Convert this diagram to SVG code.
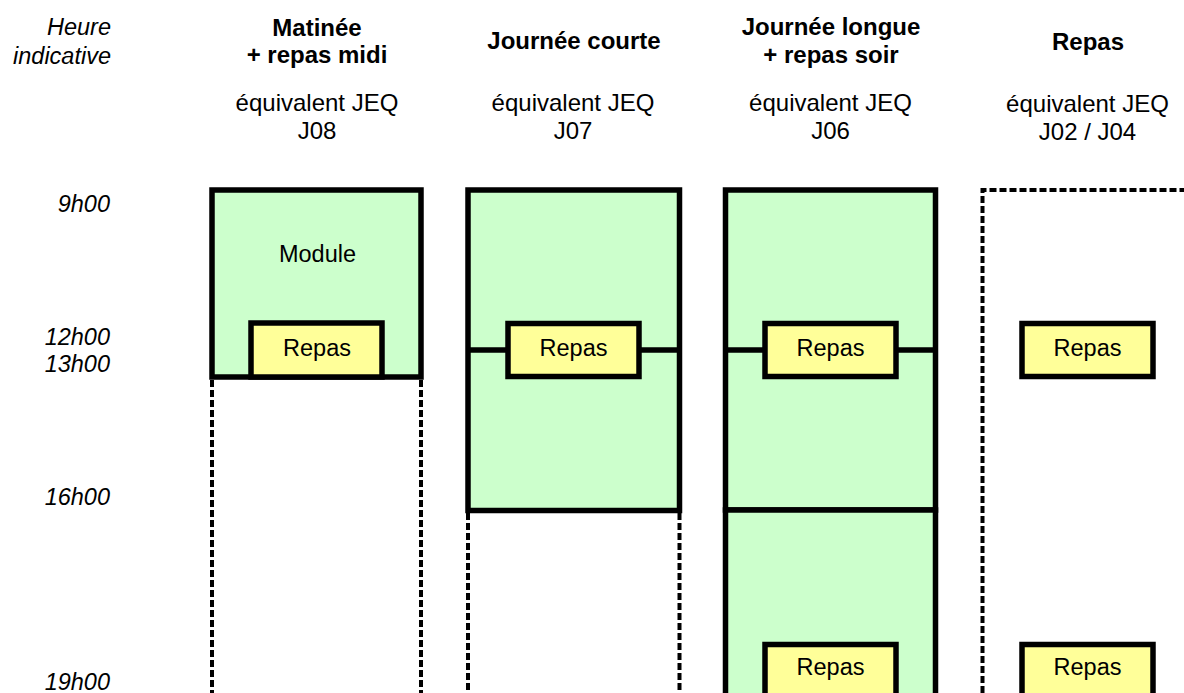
<svg xmlns="http://www.w3.org/2000/svg" width="1184" height="693" viewBox="0 0 1184 693">
<style>
text{font-family:"Liberation Sans",Arial,sans-serif;fill:#000}
.h{font-size:24px;font-weight:bold;text-anchor:middle}
.s{font-size:24px;text-anchor:middle}
.t{font-size:23.5px;font-style:italic;text-anchor:end}
.lbl{font-size:23.5px;text-anchor:middle}
.g{fill:#CCFFCC;stroke:#000;stroke-width:5.5}
.y{fill:#FFFF99;stroke:#000;stroke-width:5.5}
.ln{fill:none;stroke:#000;stroke-width:5.5}
.d{fill:none;stroke:#000;stroke-width:4;stroke-dasharray:7 3}
</style>
<rect width="1184" height="693" fill="#fff"/>
<g id="time-axis">
<text class="t" x="111" y="35">Heure</text>
<text class="t" x="111" y="64">indicative</text>
<text class="t" x="110" y="212">9h00</text>
<text class="t" x="110" y="345">12h00</text>
<text class="t" x="110" y="372">13h00</text>
<text class="t" x="110" y="505">16h00</text>
<text class="t" x="110" y="690">19h00</text>
</g>
<g id="headers">
<text class="h" x="317" y="36">Matinée</text>
<text class="h" x="317" y="63">+ repas midi</text>
<text class="s" x="317" y="111">équivalent JEQ</text>
<text class="s" x="317" y="138.5">J08</text>
<text class="h" x="574" y="49">Journée courte</text>
<text class="s" x="573" y="111">équivalent JEQ</text>
<text class="s" x="573" y="138.5">J07</text>
<text class="h" x="831" y="35">Journée longue</text>
<text class="h" x="831" y="63">+ repas soir</text>
<text class="s" x="830.5" y="111">équivalent JEQ</text>
<text class="s" x="830.5" y="138.5">J06</text>
<text class="h" x="1088" y="50">Repas</text>
<text class="s" x="1087.5" y="111.5">équivalent JEQ</text>
<text class="s" x="1087.5" y="139.5">J02 / J04</text>
</g>
<g id="matinee">
<rect class="g" x="212" y="190" width="209" height="187"/>
<text class="lbl" x="317.5" y="262">Module</text>
</g>
<g id="journee-courte">
<rect class="g" x="468" y="190" width="211.5" height="320.5"/>
</g>
<g id="journee-longue">
<rect class="g" x="725.5" y="190" width="210" height="320"/>
</g>
<g id="journee-longue-soir">
<rect class="g" x="725.5" y="510" width="210" height="200"/>
</g>
<g id="connectors">
<path class="d" d="M212 380V693M421 380V693"/>
<path class="d" d="M468 513V693M679.5 513V693"/>
<path class="d" d="M982.5 693V190H1190"/>
<path class="ln" d="M468 350H508M639 350H679.5"/>
<path class="ln" d="M725.5 350H765M896 350H935.5"/>
</g>
<g id="matinee-repas">
<rect class="y" x="251" y="323" width="131" height="54"/>
<text class="lbl" x="317" y="356">Repas</text>
</g>
<g id="journee-courte-repas">
<rect class="y" x="508" y="323.5" width="131" height="53"/>
<text class="lbl" x="573.5" y="355.5">Repas</text>
</g>
<g id="journee-longue-repas-midi">
<rect class="y" x="765" y="323.5" width="131" height="53"/>
<text class="lbl" x="830.5" y="355.5">Repas</text>
</g>
<g id="journee-longue-repas-soir">
<rect class="y" x="765" y="644.5" width="131" height="60"/>
<text class="lbl" x="830.5" y="675">Repas</text>
</g>
<g id="repas-midi">
<rect class="y" x="1022" y="323.5" width="131" height="53"/>
<text class="lbl" x="1087.5" y="355.5">Repas</text>
</g>
<g id="repas-soir">
<rect class="y" x="1022" y="644.5" width="131" height="60"/>
<text class="lbl" x="1087.5" y="675">Repas</text>
</g>
</svg>
